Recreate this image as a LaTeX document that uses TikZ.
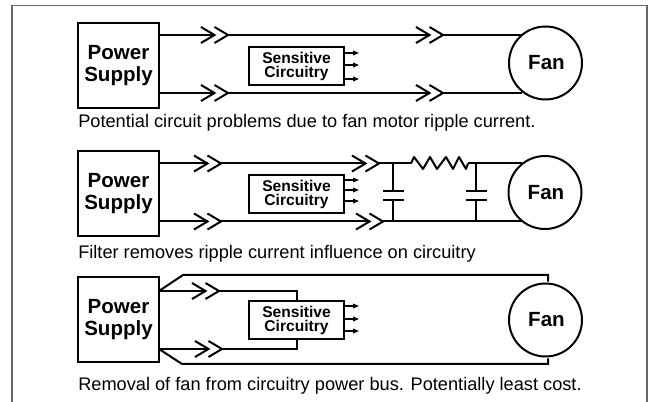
\documentclass[tikz,border=0pt]{standalone}
\usepackage{fontspec}
\setmainfont{Liberation Sans}
\usetikzlibrary{arrows.meta}
\tikzset{
  x=0.75pt,y=-0.75pt,
  psu/.style={draw,line width=1.5pt,inner sep=0,outer sep=0,minimum width=60.75pt,minimum height=63.75pt,align=center,font=\fontsize{15.4}{16.5}\selectfont\bfseries},
  sens/.style={draw,line width=1.5pt,inner sep=0,outer sep=0,minimum width=71.25pt,minimum height=28.5pt,align=center,font=\fontsize{11.7}{10.5}\selectfont\bfseries},
  fan/.style={draw,circle,line width=1.5pt,inner sep=0,outer sep=0,minimum size=54.75pt,font=\fontsize{15.4}{18}\selectfont\bfseries},
  wire/.style={line width=1.5pt,line join=miter},
  chevron/.style={line width=1.5pt,line join=miter},
  tick/.style={line width=0.9pt,-{Triangle[length=4.5pt,width=3.5pt]}},
  caption/.style={anchor=base west,inner sep=0,font=\fontsize{13.65}{15}\selectfont},
  frameline/.style={line width=0.8pt,draw=black!60},
}
\newcommand{\low}[1]{\raisebox{-0.75pt}{#1}}
\newcommand{\psutext}{\low{Power}\\\low{Supply}}
\newcommand{\senstext}{\low{Sensitive}\\\low{Circuitry}}
\newcommand{\fantext}{\hspace{1.5pt}\low{Fan}}
\newcommand{\chev}[3]{%
  \coordinate (#1a) at (#2+13.5,#3);
  \coordinate (#1b) at (#2+27,#3);
  \draw[chevron] (#2,#3-8) -- (#1a) -- (#2,#3+8);
  \draw[chevron] (#2+13.5,#3-8) -- (#1b) -- (#2+13.5,#3+8);
}
\newcommand{\ticks}[4]{%
  \coordinate (#1ta) at (359,#2);
  \coordinate (#1tb) at (359,#3);
  \coordinate (#1tc) at (359,#4);
  \draw[tick] (#1.east |- #1ta) -- (#1ta);
  \draw[tick] (#1.east |- #1tb) -- (#1tb);
  \draw[tick] (#1.east |- #1tc) -- (#1tc);
}
\begin{document}
\begin{tikzpicture}
\useasboundingbox (0,0) rectangle (651,402);
\coordinate (fa) at (12,402);
\coordinate (fb) at (12,5.5);
\coordinate (fc) at (647,5.5);
\coordinate (fd) at (647,402);
\draw[frameline] (fa) -- (fb) -- (fc) -- (fd);

% panel 1
\node[psu] (p1) at (118.5,65.5) {\psutext};
\node[sens] (s1) at (296.5,66) {\senstext};
\node[fan] (f1) at (545.5,63) {\fantext};
\ticks{s1}{53}{65}{79}
\chev{c1}{201}{35}
\chev{c2}{416}{35}
\chev{c3}{201}{93}
\chev{c4}{416}{93}
\draw[wire] (p1.east |- c1a) -- (c1a);
\draw[wire] (c1b) -- (c2a);
\draw[wire] (c2b) -- (c2b -| f1.130);
\draw[wire] (p1.east |- c3a) -- (c3a);
\draw[wire] (c3b) -- (c4a);
\draw[wire] (c4b) -- (c4b -| f1.230);
\node[caption] (t1) at (78,128) {Potential circuit problems due to fan motor ripple current.};

% panel 2
\node[psu] (p2) at (118.5,193.5) {\psutext};
\node[sens] (s2) at (296.5,194) {\senstext};
\node[fan] (f2) at (545,192.5) {\fantext};
\ticks{s2}{180}{190}{201}
\chev{d1}{194}{163.5}
\chev{d2}{352}{163.5}
\chev{d3}{194}{221.5}
\chev{d4}{356}{221.5}
\coordinate (ra) at (411,163.5);
\coordinate (rb) at (468,163.5);
\coordinate (k1t) at (393,163.5);
\coordinate (k1b) at (393,221.5);
\coordinate (k2t) at (476,163.5);
\coordinate (k2b) at (476,221.5);
\draw[wire] (p2.east |- d1a) -- (d1a);
\draw[wire] (d1b) -- (d2a);
\draw[wire] (d2b) -- (ra);
\draw[wire,line join=round] (ra) -- (414,157) -- (423,169) -- (430,157) -- (437,169) -- (446,157) -- (453,169) -- (459,157) -- (466,169) -- (rb);
\draw[wire] (rb) -- (rb -| f2.129);
\draw[wire] (p2.east |- d3a) -- (d3a);
\draw[wire] (d3b) -- (d4a);
\draw[wire] (d4b) -- (d4b -| f2.231);
\draw[wire] (k1t) -- (393,191);
\draw[wire] (383,191) -- (404,191);
\draw[wire] (383,200) -- (404,200);
\draw[wire] (393,200) -- (k1b);
\draw[wire] (k2t) -- (476,191);
\draw[wire] (465.5,191) -- (487,191);
\draw[wire] (465.5,200) -- (487,200);
\draw[wire] (476,200) -- (k2b);
\node[caption] (t2) at (78,259) {Filter removes ripple current influence on circuitry};

% panel 3
\node[psu] (p3) at (118.5,319.5) {\psutext};
\node[sens] (s3) at (296.5,320) {\senstext};
\node[fan] (f3) at (545.5,320) {\fantext};
\ticks{s3}{306}{319}{331}
\chev{e1}{192}{291}
\chev{e2}{195}{349}
\coordinate (u1) at (159,291);
\coordinate (u2) at (159,349);
\coordinate (v1) at (297,291);
\coordinate (v2) at (297,349);
\draw[wire] (u1) -- (e1a);
\draw[wire] (e1b) -- (v1) -- (v1 |- s3.north);
\draw[wire] (u2) -- (e2a);
\draw[wire] (e2b) -- (v2) -- (v2 |- s3.south);
\draw[wire] (u1) -- (183,275) -- (548,275) -- (548,281.7);
\draw[wire] (u2) -- (182,364) -- (548,364) -- (548,358.3);
\node[caption] (t3) at (78,391) {Removal of fan from circuitry power bus. Potentially least cost.};
\end{tikzpicture}
\end{document}
